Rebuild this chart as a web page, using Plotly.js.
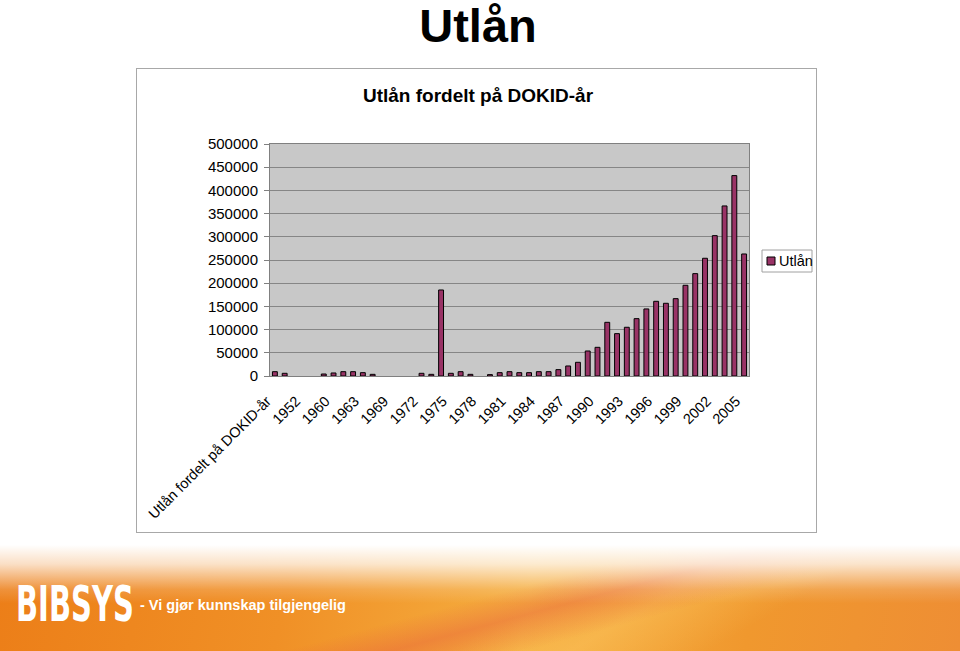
<!DOCTYPE html>
<html>
<head>
<meta charset="utf-8">
<script src="https://cdn.plot.ly/plotly-3.0.1.min.js"></script>
<style>
html,body{margin:0;padding:0;background:#fff;width:960px;height:651px;overflow:hidden;font-family:"Liberation Sans",Arial,sans-serif;}
#bigtitle{position:absolute;left:0;top:0;width:956px;text-align:center;font-size:47px;line-height:52px;font-weight:bold;color:#000;}
#box{position:absolute;left:136px;top:68px;width:679px;height:463px;border:1px solid #A8A8A8;background:#fff;}
#banner{position:absolute;left:0;top:545px;width:960px;height:106px;overflow:hidden;
 background:
  linear-gradient(to bottom, rgba(255,255,255,1) 0%, rgba(255,255,255,0.75) 18%, rgba(255,255,255,0.15) 42%, rgba(255,255,255,0) 55%),
  linear-gradient(165deg, rgba(0,0,0,0) 50%, rgba(232,96,60,0.45) 58%, rgba(0,0,0,0) 68%),
  linear-gradient(150deg, rgba(0,0,0,0) 55%, rgba(255,210,110,0.35) 66%, rgba(0,0,0,0) 78%),
  linear-gradient(100deg, #EC7E18 0%, #F09026 30%, #F5AE40 55%, #F0982E 78%, #EE8E34 100%);}
#logo{position:absolute;left:16px;top:30px;font-family:"DejaVu Sans",sans-serif;font-weight:bold;font-size:50px;line-height:58px;color:#fff;letter-spacing:0;transform:scaleX(0.58);transform-origin:left top;}
#slogan{position:absolute;left:140px;top:52px;font-family:"Liberation Sans",Arial,sans-serif;font-weight:bold;font-size:14.5px;color:#fff;}
#chart{position:absolute;left:0;top:0;width:960px;height:651px;}
</style>
</head>
<body>
<div id="bigtitle">Utlån</div>
<div id="box"></div>
<div id="banner"><div id="logo">BIBSYS</div><div id="slogan">- Vi gjør kunnskap tilgjengelig</div></div>
<div id="chart"></div>
<script>
// ---- data ----
const categories = [
  "Utlån fordelt på DOKID-år", "1950", "1951",
  "1952", "1955", "1958",
  "1960", "1961", "1962",
  "1963", "1965", "1967",
  "1969", "1970", "1971",
  "1972", "1973", "1974",
  "1975", "1976", "1977", "1978", "1979", "1980", "1981", "1982", "1983", "1984",
  "1985", "1986", "1987", "1988", "1989", "1990", "1991", "1992", "1993", "1994",
  "1995", "1996", "1997", "1998", "1999", "2000", "2001", "2002", "2003", "2004", "2005"
];
const utlan = [
  9300, 5800, null,
  null, null, 4300,
  6500, 9300, 9300,
  7200, 3600, null,
  null, null, null,
  5800, 3600, 185400,
  5800, 9300, 3600, null, 3000, 7200, 9300, 7200, 7200, 9300,
  9300, 13700, 21600, 29500, 53900, 61800, 115700, 91300, 105000, 123600,
  144500, 161000, 156700, 166700, 195500, 220600, 253700, 302500, 366500, 431900, 263000
];
const seriesName = "Utlån";
const chartTitle = "Utlån fordelt på DOKID-år";
const labelStep = 3;
const tickLabels = categories.filter((c, i) => i % labelStep === 0);

// ---- layout helpers (pixel -> paper) ----
const L = 270, R = 749, T = 144, B = 376;
const px = v => (v - L) / (R - L);
const py = v => (B - v) / (B - T);
const FONT = "Liberation Sans, Arial, sans-serif";

const trace = {
  type: "bar",
  x: categories,
  y: utlan,
  name: seriesName,
  marker: {color: "#993366", line: {color: "#000000", width: 1}},
  hoverinfo: "x+y"
};

const layout = {
  width: 960, height: 651, autosize: false,
  margin: {l: L, r: 960 - R, t: T, b: 651 - B, pad: 0},
  paper_bgcolor: "rgba(0,0,0,0)",
  plot_bgcolor: "#C8C8C8",
  showlegend: false,
  bargap: 0.5,
  font: {family: FONT, size: 14, color: "#000"},
  title: {text: "<b>" + chartTitle + "</b>", font: {family: FONT, size: 19, color: "#000"},
          x: 478 / 960, xref: "container", xanchor: "center", y: 1 - 95 / 651, yref: "container", yanchor: "middle"},
  xaxis: {
    type: "category", categoryorder: "array", categoryarray: categories,
    range: [-0.5, categories.length - 0.5],
    tickmode: "array", tickvals: tickLabels, ticktext: tickLabels,
    tickangle: -45, ticks: "", ticklabelstandoff: 10, ticklabelshift: -8,
    tickfont: {family: FONT, size: 14.5, color: "#000"},
    showline: true, linecolor: "#808080", linewidth: 1, mirror: true,
    showgrid: false, zeroline: false, fixedrange: true
  },
  xaxis2: {
    overlaying: "x", anchor: "y", side: "bottom",
    range: [-0.5, categories.length - 0.5], tickmode: "linear", tick0: -0.5, dtick: 1,
    ticks: "outside", ticklen: 4, tickcolor: "#808080", showticklabels: false,
    showgrid: false, zeroline: false, showline: false, fixedrange: true
  },
  yaxis: {
    range: [0, 500000], tickmode: "linear", tick0: 0, dtick: 50000, tickformat: "d",
    ticks: "outside", ticklen: 5, tickcolor: "#808080", ticklabelstandoff: 3,
    tickfont: {family: FONT, size: 15, color: "#000"},
    showgrid: true, gridcolor: "#868686", gridwidth: 1,
    showline: true, linecolor: "#808080", linewidth: 1, mirror: true,
    zeroline: false, fixedrange: true
  },
  shapes: [
    {type: "rect", xref: "paper", yref: "paper", x0: px(762), x1: px(812), y0: py(250), y1: py(272),
     line: {color: "#A0A0A0", width: 1}, fillcolor: "#FFFFFF", layer: "above"},
    {type: "rect", xref: "paper", yref: "paper", x0: px(767), x1: px(775), y0: py(257), y1: py(265),
     line: {color: "#000000", width: 1}, fillcolor: "#993366", layer: "above"}
  ],
  annotations: [
    {text: seriesName, xref: "paper", yref: "paper", x: px(777), y: py(261), xanchor: "left", yanchor: "middle",
     showarrow: false, font: {family: FONT, size: 14.5, color: "#000"}}
  ]
};

Plotly.newPlot("chart", [trace], layout, {displayModeBar: false, staticPlot: true});
</script>
</body>
</html>
